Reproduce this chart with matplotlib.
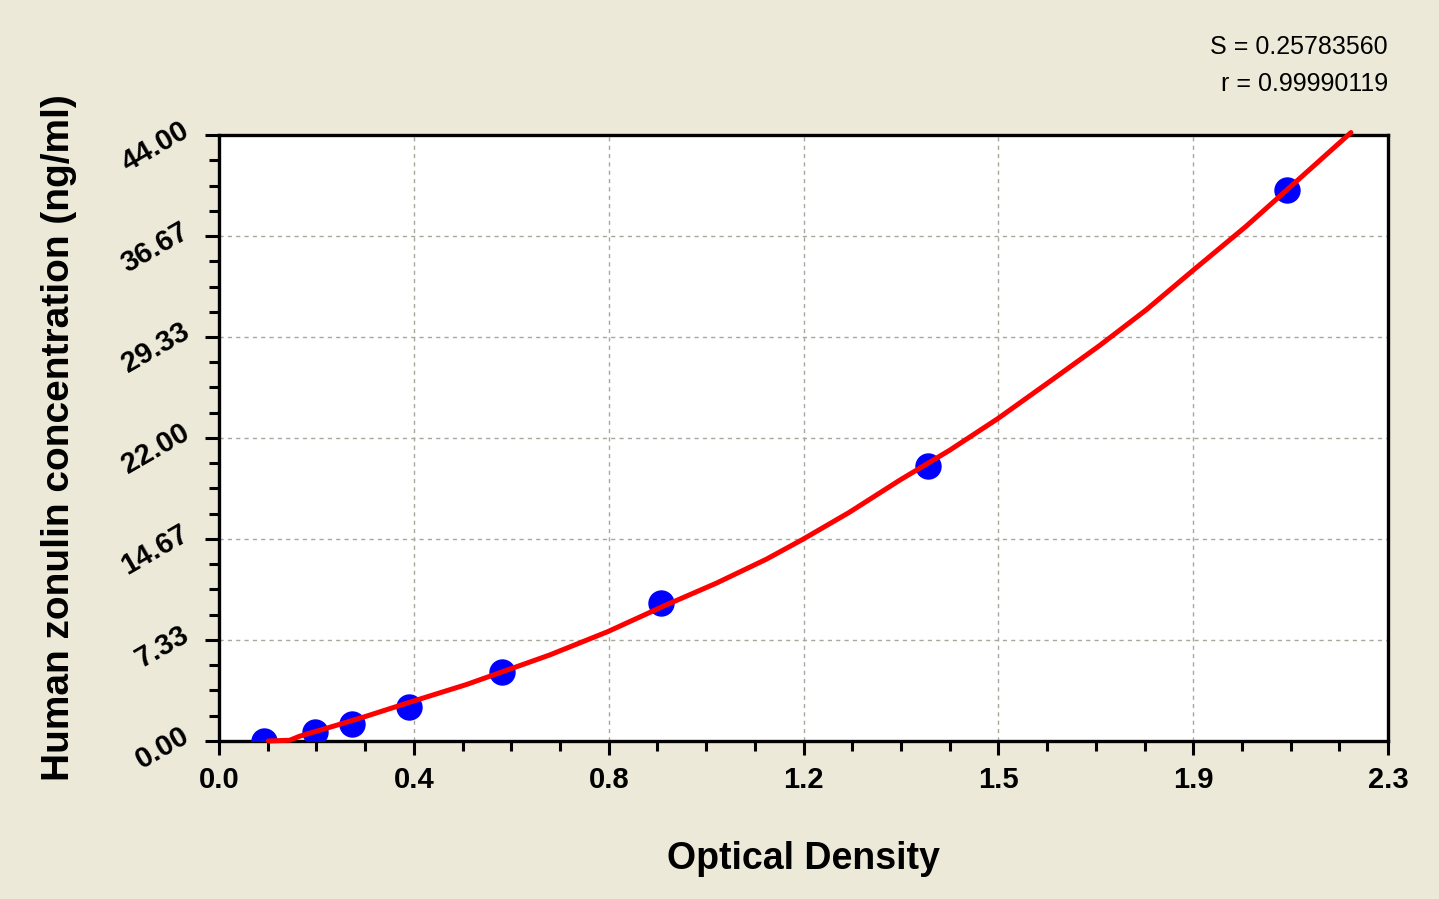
import matplotlib.pyplot as plt
from matplotlib.ticker import MultipleLocator, FixedLocator
from matplotlib.transforms import ScaledTranslation

# standards (OD vs concentration)
od = [0.089, 0.189, 0.261, 0.374, 0.556, 0.870, 1.395, 2.102]
conc = [0.0, 0.625, 1.25, 2.5, 5.0, 10.0, 20.0, 40.0]

# fitted curve
curve_od = [0.097, 0.139, 0.159, 0.225, 0.290, 0.382, 0.487, 0.552, 0.651, 0.765,
            0.880, 0.978, 1.077, 1.149, 1.240, 1.339, 1.437, 1.532, 1.634, 1.732,
            1.824, 1.914, 2.020, 2.105, 2.227]
curve_conc = [0.0, 0.05, 0.35, 1.07, 1.80, 2.89, 4.10, 4.95, 6.25, 7.94,
              9.88, 11.45, 13.2, 14.65, 16.6, 18.93, 21.1, 23.4, 26.09, 28.7,
              31.3, 34.1, 37.35, 40.15, 44.18]

x_ticks = [0.0, 2.3 / 6, 2 * 2.3 / 6, 3 * 2.3 / 6, 4 * 2.3 / 6, 5 * 2.3 / 6, 2.3]
x_labels = ["0.0", "0.4", "0.8", "1.2", "1.5", "1.9", "2.3"]
y_ticks = [0.0, 44 / 6, 2 * 44 / 6, 3 * 44 / 6, 4 * 44 / 6, 5 * 44 / 6, 44.0]
y_labels = ["0.00", "7.33", "14.67", "22.00", "29.33", "36.67", "44.00"]

s_text = "S = 0.25783560"
r_text = "r = 0.99990119"

bg = "#ECE9D8"
plt.rcParams["font.family"] = ["Liberation Sans", "DejaVu Sans"]

fig = plt.figure(figsize=(14.39, 8.99), dpi=100, facecolor=bg)
ax = fig.add_axes([0.1522, 0.1758, 0.8124, 0.674])
ax.set_facecolor("white")

ax.plot(od, conc, "o", color="#0000FF", markersize=18, zorder=3)
ax.plot(curve_od, curve_conc, color="#FF0000", linewidth=3.6, zorder=4,
        clip_on=False, solid_capstyle="round")

ax.set_xlim(0, 2.3)
ax.set_ylim(0, 44)

ax.xaxis.set_major_locator(FixedLocator(x_ticks))
ax.set_xticklabels(x_labels, fontsize=21, fontweight="bold")
ax.xaxis.set_minor_locator(MultipleLocator(2.3 / 24))
ax.yaxis.set_major_locator(FixedLocator(y_ticks))
ax.set_yticklabels(y_labels, fontsize=21, fontweight="bold", rotation=30,
                   ha="right", va="center", rotation_mode="anchor")
ax.yaxis.set_minor_locator(MultipleLocator(44 / 24))

ax.tick_params(which="major", direction="out", length=10, width=2.2, color="black")
ax.tick_params(which="minor", direction="out", length=7, width=2.2, color="black")
ax.tick_params(axis="x", which="major", pad=8)
ax.tick_params(axis="y", which="major", pad=6)

# nudge the slanted y labels a bit left and up
shift = ScaledTranslation(-0.10, 0.07, fig.dpi_scale_trans)
for lbl in ax.get_yticklabels():
    lbl.set_transform(lbl.get_transform() + shift)

for sp in ax.spines.values():
    sp.set_linewidth(2.4)
    sp.set_color("black")

ax.grid(True, which="major", linestyle=(0, (3, 3)), color="#A8A89C", linewidth=1.0)
ax.set_axisbelow(True)

ax.set_xlabel("Optical Density", fontsize=27, fontweight="bold", labelpad=34)
ax.set_ylabel("Human zonulin concentration (ng/ml)", fontsize=28, fontweight="bold",
              labelpad=28.5)

fig.text(0.9646, 1 - 47 / 899, s_text, fontsize=18, ha="right", va="center")
fig.text(0.9646, 1 - 84 / 899, r_text, fontsize=18, ha="right", va="center")

fig.savefig("out.png", dpi=100, facecolor=bg)
